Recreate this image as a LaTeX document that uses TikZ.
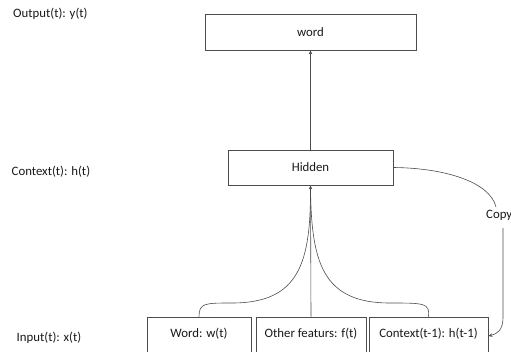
\documentclass[tikz,border=0pt]{standalone}
\usepackage{fontspec}
\setmainfont{Carlito}
\usetikzlibrary{arrows.meta}
\begin{document}
\begin{tikzpicture}[x=1pt,y=-1pt,
  every node/.style={font=\fontsize{12.8}{15}\selectfont, text=black!90},
  box/.style={draw=black!70, line width=0.8pt, fill=white, inner sep=0pt},
  link/.style={draw=black!70, line width=0.6pt},
  tip/.style={-{Stealth[length=4pt,width=3.5pt]}},
  side/.style={anchor=west, inner sep=0pt}]
  \useasboundingbox (0,0) rectangle (511,351);
  \clip (0,0) rectangle (511,351);

  % row labels
  \node[side] (lout) at (13,14) {Output(t): y(t)};
  \node[side] (lctx) at (11.5,172) {Context(t): h(t)};
  \node[side] (lin)  at (16.5,338) {Input(t): x(t)};

  % output and hidden layers
  \node[box, minimum width=211pt, minimum height=36pt] (word)   at (310.5,32)  {word};
  \node[box, minimum width=165pt, minimum height=35pt] (hidden) at (310.5,167.5) {Hidden};

  % input units (running off the bottom edge)
  \node[box, minimum width=104pt, minimum height=60pt] (w) at (199,347) {};
  \node[box, minimum width=110pt, minimum height=60pt] (f) at (311,347) {};
  \node[box, minimum width=119pt, minimum height=60pt] (c) at (428.5,347) {};
  \node (wt) at (199,334) {Word: w(t)};
  \node (ft) at (311,334) {Other featurs: f(t)};
  \node (ct) at (428.5,334) {Context(t-1): h(t-1)};

  % hidden -> output
  \draw[link, tip] (hidden.north) -- (word.south);

  % inputs -> hidden
  \draw[link, tip] (f.north) -- (hidden.south);
  \draw[link] (w.north) .. controls (199,303) and (205,303) .. (232,303)
              .. controls (300,303) and (311,262) .. (hidden.south);
  \draw[link] (c.north) .. controls (430,303) and (424,303) .. (390,303)
              .. controls (322,303) and (311,262) .. (hidden.south);

  % copy of the hidden state back into the context input
  \coordinate (k1) at (503,228);
  \coordinate (k2) at (503,318);
  \draw[link] (hidden.east) .. controls (445,168) and (490,182) .. (496,207);
  \draw[link, tip] (k1) -- (k2) .. controls (503,330) and (497,334) .. (c.east |- 0,336);
  \node[anchor=west, inner sep=0pt] (copy) at (486,215) {Copy};
\end{tikzpicture}
\end{document}
